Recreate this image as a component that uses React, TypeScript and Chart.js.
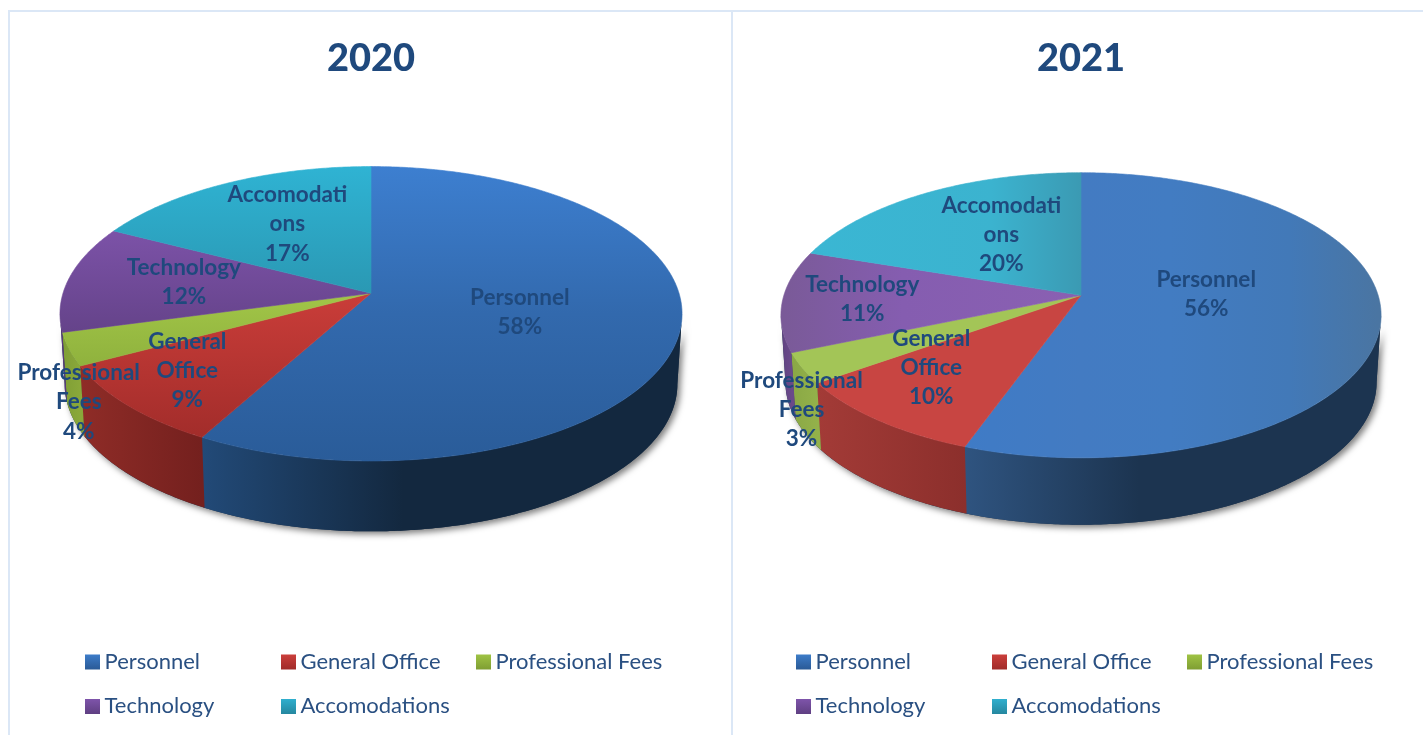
import React, { useEffect, useRef } from "react";
import { Chart, registerables } from "chart.js";

Chart.register(...registerables);

const categories = ["Personnel", "General Office", "Professional Fees", "Technology", "Accomodations"];
const values2020 = [58, 9.2, 3.6, 11.8, 17.4];
const values2021 = [55.51, 9.69, 3.45, 11.45, 19.9];
const labelLines = [["Personnel"], ["General", "Office"], ["Professional", "Fees"], ["Technology"], ["Accomodati", "ons"]];
const baseColors = ["#3568a8", "#b5352f", "#92b53f", "#6f4a96", "#2ea3c2"];
const swatchTop = ["#3d7cc9", "#cb3f3b", "#9fc344", "#7e54aa", "#30afce"];
const swatchBottom = ["#2a5a96", "#a02b29", "#7f9e33", "#5f3f82", "#25879f"];

type Stops = [number, string][];
type Look = {
  dir: "v" | "h";
  faces: Stops[];
  wallNear: string[];
  wallFar: string[];
};

const look2020: Look = {
  dir: "v",
  faces: [
    [[0, "#3d7fd0"], [0.5, "#3269ad"], [1, "#2a5c99"]],
    [[0.4, "#cc3e3a"], [1, "#9c2a28"]],
    [[0.4, "#a4c849"], [0.8, "#86a838"]],
    [[0.2, "#7d53a9"], [0.65, "#5f3f82"]],
    [[0, "#2fb3d3"], [0.45, "#2a97b2"]],
  ],
  wallNear: ["#224a78", "#8f2c27", "#8aa83a", "#5a3a7c", "#25879f"],
  wallFar: ["#13283f", "#74201e", "#7f9e35", "#4c3069", "#1f7388"],
};

const look2021: Look = {
  dir: "h",
  faces: [
    [[0.3, "#3f7bc6"], [0.5, "#437bc2"], [0.65, "#427cc2"], [0.85, "#4279b8"], [1, "#4a75a2"]],
    [[0, "#c84542"], [1, "#c84542"]],
    [[0, "#a3c557"], [1, "#a3c557"]],
    [[0, "#7a5a98"], [0.2, "#855db0"], [0.5, "#8a60b2"]],
    [[0, "#3ab7d4"], [0.35, "#3bb3cf"], [0.5, "#3b9ab3"]],
  ],
  wallNear: ["#2f5480", "#a33b37", "#93b14a", "#6a4a8a", "#2f8ca5"],
  wallFar: ["#1c3450", "#8c2f2c", "#8aa845", "#5f4280", "#287a90"],
};

type PieOpts = {
  look: Look;
  sx: number;
  sy: number;
  persp: number;
  depth: number;
  taper: number;
  labelNudges: [number, number][];
  legendColumns: number[];
  legendRows: number[];
};

const project = (el: any, o: PieOpts, a: number, f = 1, low = false) => {
  const R = el.outerRadius;
  const u = f * Math.cos(a);
  const v = f * Math.sin(a);
  const w = 1 - o.persp * v;
  return {
    x: el.x + (R * o.sx * u * (low ? o.taper : 1)) / w,
    y: el.y + (R * o.sy * v) / w + (low ? R * o.depth : 0),
  };
};

const rimPoints = (el: any, o: PieOpts, from: number, to: number, low = false) => {
  const n = Math.max(2, Math.ceil(Math.abs(to - from) / 0.01));
  const pts = [];
  for (let i = 0; i <= n; i++) pts.push(project(el, o, from + ((to - from) * i) / n, 1, low));
  return pts;
};

const Pie3DPlugin = {
  id: "pie3d",
  beforeDatasetDraw(chart: any, _args: any, o: PieOpts) {
    const { ctx } = chart;
    const arcs = chart.getDatasetMeta(0).data;
    const first = arcs[0];
    const R = first.outerRadius;
    const x0 = first.x - R * o.sx;
    const x1 = first.x + R * o.sx;
    const yTop = project(first, o, -Math.PI / 2).y;
    const yBot = project(first, o, Math.PI / 2).y;
    const a0 = Math.asin(o.persp);
    const a1 = Math.PI - a0;

    // soft shadow under the wall
    ctx.save();
    ctx.shadowColor = "rgba(0,0,0,0.5)";
    ctx.shadowBlur = 6;
    ctx.shadowOffsetX = 3;
    ctx.shadowOffsetY = 3;
    ctx.fillStyle = "#20344e";
    ctx.beginPath();
    [...rimPoints(first, o, a0, a1), ...rimPoints(first, o, a1, a0, true)].forEach((p, i) =>
      i ? ctx.lineTo(p.x, p.y) : ctx.moveTo(p.x, p.y)
    );
    ctx.closePath();
    ctx.fill();
    ctx.restore();

    // side walls
    arcs.forEach((el: any, i: number) => {
      const s = Math.max(el.startAngle, a0);
      const e = Math.min(el.endAngle, a1);
      if (e <= s) return;
      const top = rimPoints(el, o, s, e + 0.003);
      const bottom = rimPoints(el, o, e + 0.003, s, true);
      const xa = top[0].x;
      const xb = top[top.length - 1].x;
      const g = ctx.createLinearGradient(Math.min(xa, xb), 0, Math.max(xa, xb), 0);
      const near = o.look.wallNear[i];
      const far = o.look.wallFar[i];
      if (i === 0) {
        g.addColorStop(0, near);
        g.addColorStop(0.42, far);
        g.addColorStop(1, far);
      } else if (i === 1) {
        // the red wall gets darker toward the blue wall
        g.addColorStop(0, near);
        g.addColorStop(1, far);
      } else {
        g.addColorStop(0, far);
        g.addColorStop(1, near);
      }
      ctx.fillStyle = g;
      ctx.beginPath();
      [...top, ...bottom].forEach((p, k) => (k ? ctx.lineTo(p.x, p.y) : ctx.moveTo(p.x, p.y)));
      ctx.closePath();
      ctx.fill();
    });

    // top faces
    arcs.forEach((el: any, i: number) => {
      const g =
        o.look.dir === "v"
          ? ctx.createLinearGradient(0, yTop, 0, yBot)
          : ctx.createLinearGradient(x0, 0, x1, 0);
      o.look.faces[i].forEach(([t, c]) => g.addColorStop(t, c));
      ctx.fillStyle = g;
      ctx.strokeStyle = g;
      ctx.lineWidth = 0.6;
      ctx.beginPath();
      ctx.moveTo(el.x, el.y);
      rimPoints(el, o, el.startAngle, el.endAngle).forEach((p) => ctx.lineTo(p.x, p.y));
      ctx.closePath();
      ctx.fill();
      ctx.stroke();
    });
    return false;
  },
  afterDatasetsDraw(chart: any, _args: any, o: PieOpts) {
    const { ctx } = chart;
    const arcs = chart.getDatasetMeta(0).data;
    const values: number[] = chart.data.datasets[0].data;
    const total = values.reduce((a, b) => a + b, 0);
    ctx.save();
    ctx.fillStyle = "#1f497d";
    ctx.font = "bold 22.5px Lato";
    ctx.textAlign = "center";
    ctx.textBaseline = "middle";
    arcs.forEach((el: any, i: number) => {
      const mid = (el.startAngle + el.endAngle) / 2;
      const p = project(el, o, mid, 0.6);
      const lines = [...labelLines[i], `${Math.round((values[i] / total) * 100)}%`];
      const lh = 29.2;
      const x = p.x + o.labelNudges[i][0];
      const y = p.y + o.labelNudges[i][1] - ((lines.length - 1) * lh) / 2;
      lines.forEach((t, k) => ctx.fillText(t, x, y + k * lh));
    });
    ctx.restore();
  },
  afterDraw(chart: any, _args: any, o: PieOpts) {
    const { ctx } = chart;
    ctx.save();
    ctx.font = "22px Lato";
    ctx.textBaseline = "middle";
    ctx.textAlign = "left";
    chart.data.labels.forEach((label: string, i: number) => {
      const col = i % 3;
      const row = Math.floor(i / 3);
      const x = o.legendColumns[col];
      const y = o.legendRows[row];
      const g = ctx.createLinearGradient(0, y - 7, 0, y + 8);
      g.addColorStop(0, swatchTop[i]);
      g.addColorStop(1, swatchBottom[i]);
      ctx.fillStyle = g;
      ctx.fillRect(x, y - 7, 15, 15);
      ctx.fillStyle = "#2a5082";
      ctx.fillText(label, x + 19.5, y);
    });
    ctx.restore();
  },
};

function PiePanel(props: {
  title: string;
  values: number[];
  left: number;
  width: number;
  padding: { left: number; right: number; bottom: number };
  titleBottom: number;
  pie: PieOpts;
}) {
  const ref = useRef<HTMLCanvasElement>(null);
  useEffect(() => {
    const chart = new Chart(ref.current as HTMLCanvasElement, {
      type: "pie",
      data: {
        labels: categories,
        datasets: [{ data: props.values, backgroundColor: baseColors, borderWidth: 0 }],
      },
      options: {
        animation: false,
        responsive: false,
        layout: { padding: { top: 0, ...props.padding } },
        plugins: {
          legend: { display: false },
          tooltip: { enabled: false },
          title: {
            display: true,
            text: props.title,
            fullSize: false,
            color: "#1f497d",
            font: { family: "Lato", size: 38, weight: "900", lineHeight: 1.2 },
            padding: { top: 36, bottom: props.titleBottom },
          },
          pie3d: props.pie,
        },
      } as any,
      plugins: [Pie3DPlugin],
    });
    return () => chart.destroy();
  }, []);
  return (
    <canvas
      ref={ref}
      width={props.width}
      height={735}
      style={{ position: "absolute", left: props.left, top: 0, width: props.width, height: 735 }}
    />
  );
}

const lineColor = "#dbe7f6";

export default function App() {
  useEffect(() => {
    document.body.style.margin = "0";
    document.body.style.overflow = "hidden";
    document.body.style.background = "#fff";
  }, []);
  return (
    <div style={{ position: "absolute", left: 0, top: 0, width: 1423, height: 735, overflow: "hidden" }}>
      <PiePanel
        title="2020"
        values={values2020}
        left={0}
        width={732}
        padding={{ left: 10, right: 0, bottom: 249 }}
        titleBottom={19}
        pie={{
          look: look2020,
          sx: 308.5 / 193,
          sy: 144.6 / 193,
          persp: 0.139,
          depth: 70.5 / 193,
          taper: 0.985,
          labelNudges: [[-34, -3], [-44, 13], [-115, 76], [-5, -2], [6, 0]],
          legendColumns: [85, 281, 476],
          legendRows: [661.5, 706],
        }}
      />
      <PiePanel
        title="2021"
        values={values2021}
        left={732}
        width={691}
        padding={{ left: 7, right: 0, bottom: 249 }}
        titleBottom={23}
        pie={{
          look: look2021,
          sx: 297.6 / 191,
          sy: 140 / 191,
          persp: 0.14,
          depth: 67 / 191,
          taper: 0.985,
          labelNudges: [[-53, -16], [-34, 1], [-117, 72], [-40, 1], [18, 3]],
          legendColumns: [64, 260, 455],
          legendRows: [661.5, 706],
        }}
      />
      <div style={{ position: "absolute", left: 8, top: 10, width: 1415, height: 2, background: lineColor }} />
      <div style={{ position: "absolute", left: 8, top: 10, width: 2, height: 725, background: lineColor }} />
      <div style={{ position: "absolute", left: 731, top: 10, width: 2, height: 725, background: lineColor }} />
    </div>
  );
}
